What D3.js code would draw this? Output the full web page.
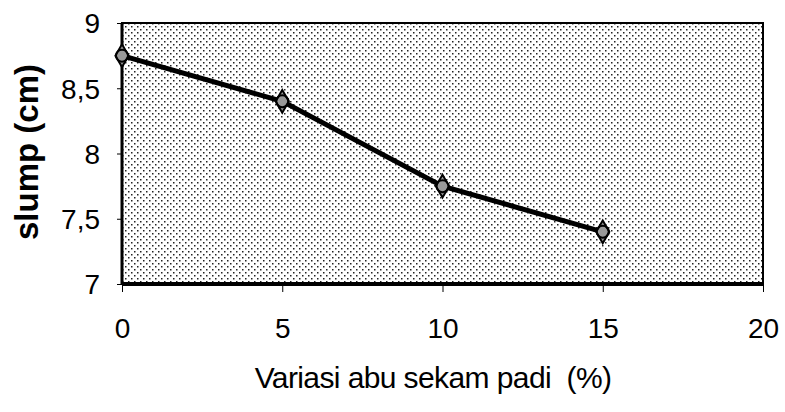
<!DOCTYPE html>
<html>
<head>
<meta charset="utf-8">
<script src="https://cdn.jsdelivr.net/npm/d3@7"></script>
<style>
  body { margin: 0; background: #fff; }
  svg { display: block; font-family: "Liberation Sans", Arial, sans-serif; }
  .axis path, .axis line { stroke: #000; }
  .axis text { fill: #000; font-size: 28px; }
</style>
</head>
<body>
<svg id="chart"></svg>
<script>
// data
const abuSekam = [0, 5, 10, 15];        // % rice husk ash
const slumpCm = [8.75, 8.4, 7.75, 7.4]; // slump (cm)
const xTicks = [0, 5, 10, 15, 20];
const yTicks = [7, 7.5, 8, 8.5, 9];

const W = 785, H = 412;
const margin = { top: 23, right: 22, bottom: 128, left: 122 };
const width = W - margin.left - margin.right;
const height = H - margin.top - margin.bottom;

const svg = d3.select('#chart').attr('width', W).attr('height', H);

// dotted fill like the scanned plot area
const defs = svg.append('defs');
const pat = defs.append('pattern')
    .attr('id', 'dots')
    .attr('width', 6).attr('height', 6)
    .attr('patternUnits', 'userSpaceOnUse');
pat.append('rect').attr('width', 6).attr('height', 6).attr('fill', '#fff');
pat.append('rect').attr('x', 0).attr('y', 0).attr('width', 1.5).attr('height', 1.5).attr('fill', '#222');
pat.append('rect').attr('x', 3).attr('y', 3).attr('width', 1.5).attr('height', 1.5).attr('fill', '#222');

const g = svg.append('g').attr('transform', `translate(${margin.left},${margin.top})`);

const x = d3.scaleLinear().domain([0, 20]).range([0, width]);
const y = d3.scaleLinear().domain([7, 9]).range([height, 0]);

g.append('rect')
    .attr('width', width).attr('height', height)
    .attr('fill', 'url(#dots)')
    .attr('stroke', '#000').attr('stroke-width', 2);
// heavier left and bottom edges
g.append('line').attr('x1', 0).attr('x2', 0).attr('y1', 0).attr('y2', height)
    .attr('stroke', '#000').attr('stroke-width', 3);
g.append('line').attr('x1', 0).attr('x2', width).attr('y1', height).attr('y2', height)
    .attr('stroke', '#000').attr('stroke-width', 4);

const fmt = d => String(d).replace('.', ',');

const xAxis = d3.axisBottom(x).tickValues(xTicks).tickSizeInner(8).tickSizeOuter(0)
    .tickPadding(26).tickFormat(fmt);
const yAxis = d3.axisLeft(y).tickValues(yTicks).tickSizeInner(5).tickSizeOuter(0)
    .tickPadding(17).tickFormat(fmt);

g.append('g').attr('class', 'axis x-axis')
    .attr('transform', `translate(0,${height})`)
    .call(xAxis)
    .call(a => a.select('.domain').remove());
g.append('g').attr('class', 'axis y-axis')
    .call(yAxis)
    .call(a => a.select('.domain').remove())
    .selectAll('text').attr('dy', '0.35em');

// line + markers
const pts = abuSekam.map((v, i) => ({ x: v, y: slumpCm[i] }));
const line = d3.line().x(d => x(d.x)).y(d => y(d.y));

g.append('path')
    .datum(pts)
    .attr('d', line)
    .attr('fill', 'none')
    .attr('stroke', '#000')
    .attr('stroke-width', 5);

const mk = g.selectAll('.mk').data(pts).join('g')
    .attr('class', 'mk')
    .attr('transform', d => `translate(${x(d.x)},${y(d.y)})`);
mk.append('path')
    .attr('d', d3.symbol().type(d3.symbolDiamond).size(150))
    .attr('fill', '#999').attr('stroke', '#000').attr('stroke-width', 2);
mk.append('circle').attr('r', 6)
    .attr('fill', 'none').attr('stroke', '#000').attr('stroke-width', 2);

// axis titles
svg.append('text')
    .attr('x', 433).attr('y', 388)
    .attr('text-anchor', 'middle')
    .attr('font-size', 30)
    .attr('letter-spacing', '-0.6px')
    .style('white-space', 'pre')
    .text('Variasi abu sekam padi  (%)');

svg.append('text')
    .attr('transform', `translate(38,${152}) rotate(-90)`)
    .attr('text-anchor', 'middle')
    .attr('font-size', 33)
    .attr('font-weight', 'bold')
    .text('slump (cm)');
</script>
</body>
</html>
